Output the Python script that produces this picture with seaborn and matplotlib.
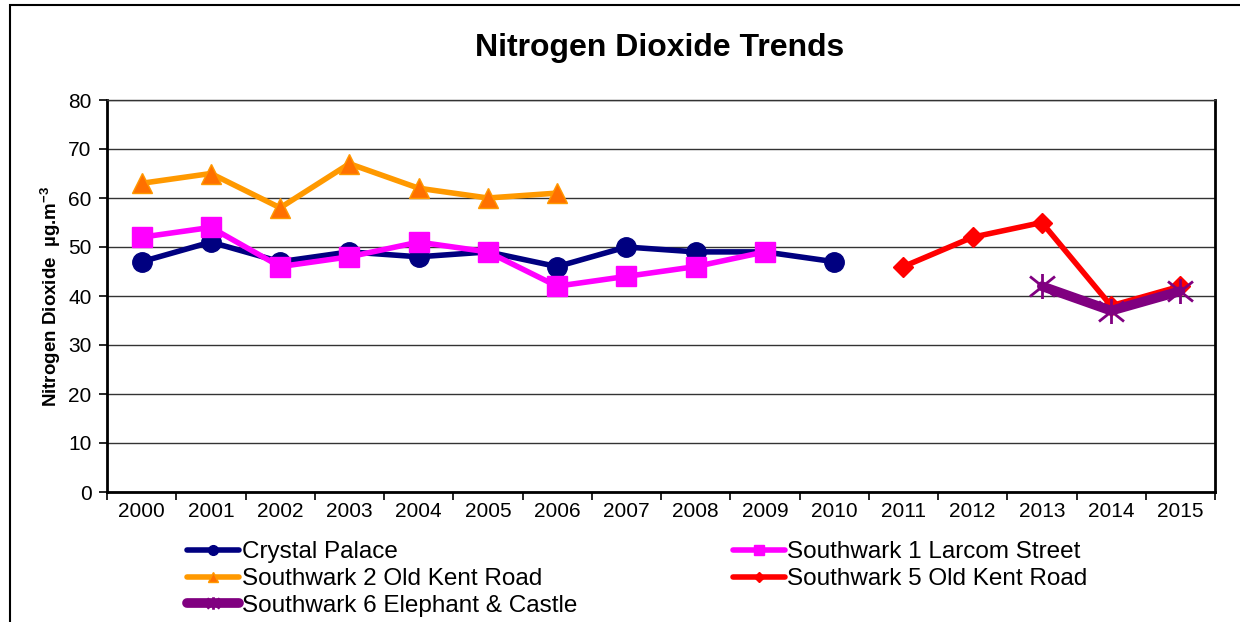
import matplotlib
matplotlib.use("Agg")
import matplotlib.pyplot as plt
import seaborn as sns
import pandas as pd
import numpy as np
from matplotlib.patches import Rectangle
from matplotlib.path import Path

years = [str(y) for y in range(2000, 2016)]

crystal_years = list(range(2000, 2011))
crystal_vals = [47, 51, 47, 49, 48, 49, 46, 50, 49, 49, 47]

s1_years = list(range(2000, 2010))
s1_vals = [52, 54, 46, 48, 51, 49, 42, 44, 46, 49]

s2_years = list(range(2000, 2007))
s2_vals = [63, 65, 58, 67, 62, 60, 61]

s5_years = list(range(2011, 2016))
s5_vals = [46, 52, 55, 38, 42]

s6_years = list(range(2013, 2016))
s6_vals = [42, 37, 41]

sns.set_theme(style="white")
plt.rcParams['font.family'] = ['Liberation Sans', 'DejaVu Sans']
plt.rcParams['text.color'] = 'black'
plt.rcParams['axes.labelcolor'] = 'black'
plt.rcParams['xtick.color'] = 'black'
plt.rcParams['ytick.color'] = 'black'

star = Path([(0, -1), (0, 1), (-1, -0.8), (1, 0.8), (-1, 0.8), (1, -0.8)],
            [Path.MOVETO, Path.LINETO, Path.MOVETO, Path.LINETO, Path.MOVETO, Path.LINETO])

fig = plt.figure(figsize=(12.4, 6.22), dpi=100)
ax = fig.add_axes([107/1240, 1-492/622, (1215-107)/1240, (492-100)/622])

series = [
    ("Crystal Palace", crystal_years, crystal_vals, dict(color="#000080", marker="o", markersize=14, lw=4,
                                                        mec="#000080", mfc="#000080", mew=1)),
    ("Southwark 1 Larcom Street", s1_years, s1_vals, dict(color="#FF00FF", marker="s", markersize=14, lw=4,
                                                          mec="#FF00FF", mfc="#FF00FF", mew=1)),
    ("Southwark 2 Old Kent Road", s2_years, s2_vals, dict(color="#FF9900", marker="^", markersize=15, lw=4,
                                                          mec="#FF9900", mfc="#FF7000", mew=1)),
    ("Southwark 5 Old Kent Road", s5_years, s5_vals, dict(color="#FF0000", marker="D", markersize=10, lw=4,
                                                          mec="#FF0000", mfc="#FF0000", mew=1)),
    ("Southwark 6 Elephant & Castle", s6_years, s6_vals, dict(color="#800080", marker=star, markersize=18, lw=7,
                                                              mec="#800080", mfc="#800080", mew=2)),
]

handles = {}
for name, yrs, vals, st in series:
    df = pd.DataFrame({"x": [y - 2000 for y in yrs], "v": vals})
    sns.lineplot(data=df, x="x", y="v", ax=ax, color=st["color"], linewidth=st["lw"],
                 marker=st["marker"], markersize=st["markersize"],
                 markeredgecolor=st["mec"], markerfacecolor=st["mfc"],
                 markeredgewidth=st["mew"], label=name, legend=False, zorder=3)
    handles[name] = ax.lines[-1]

ax.set_xlim(-0.5, 15.5)
ax.set_ylim(0, 80)
ax.set_yticks(range(0, 81, 10))
ax.set_xticks(range(16))
ax.set_xticklabels(years)
ax.set_xticks(np.arange(-0.5, 16, 1), minor=True)
ax.tick_params(axis="x", which="major", length=0, labelsize=15, pad=7)
ax.tick_params(axis="x", which="minor", length=6, width=1.2, color="black", direction="out", bottom=True)
ax.tick_params(axis="y", which="major", length=6, width=1.2, color="black", direction="out", left=True,
               labelsize=15, pad=5)
ax.grid(axis="y", color="#333333", linewidth=1.0)
ax.set_axisbelow(True)
for sp in ax.spines.values():
    sp.set_visible(True)
    sp.set_color("black")
    sp.set_linewidth(2)
ax.spines["top"].set_color("#333333")
ax.spines["top"].set_linewidth(1.0)

ax.set_xlabel("")
ax.set_ylabel("Nitrogen Dioxide  µg.m$^{\\mathregular{-3}}$", fontsize=13.5, fontweight="bold", labelpad=4)

fig.text(0.532, 1-48/622, "Nitrogen Dioxide Trends", ha="center", va="center", fontsize=23, fontweight="bold")

order = ["Crystal Palace", "Southwark 2 Old Kent Road", "Southwark 6 Elephant & Castle",
         "Southwark 1 Larcom Street", "Southwark 5 Old Kent Road"]
leg = fig.legend([handles[n] for n in order], order, ncol=2, loc="upper left",
                 bbox_to_anchor=(175/1240, 1-529/622), frameon=False, fontsize=17.5,
                 handlelength=2.15, handletextpad=0.1, columnspacing=6.4, labelspacing=0.2,
                 markerscale=0.5, borderpad=0)

fig.patches.append(Rectangle((10/1240, -0.1), 1.2, 1 - 5/622 + 0.1, transform=fig.transFigure,
                             fill=False, edgecolor="black", linewidth=1.5))

fig.savefig("out.png", dpi=100)
